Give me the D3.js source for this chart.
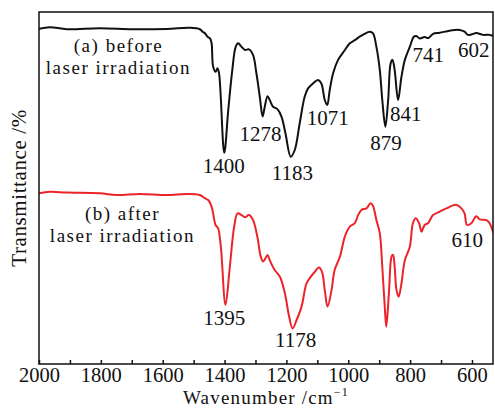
<!DOCTYPE html>
<html>
<head>
<meta charset="utf-8">
<script src="https://cdn.jsdelivr.net/npm/d3@7"></script>
<style>
  body { margin: 0; background: #fff; }
  text { font-family: "Liberation Serif", "Times New Roman", serif; fill: #111; }
</style>
</head>
<body>
<div id="chart"></div>
<script>
// spectrum (a): before laser irradiation, [wavenumber, transmittance]
const beforeWave = [2000, 1965, 1910, 1803, 1696, 1586, 1512, 1480, 1470, 1464, 1454, 1447, 1442, 1437, 1429, 1423, 1418, 1401, 1388, 1375, 1364, 1356, 1345, 1334, 1321, 1308, 1297, 1286, 1277, 1270, 1261, 1254, 1243, 1229, 1216, 1203, 1186, 1173, 1157, 1141, 1130, 1114, 1098, 1087, 1076, 1068, 1060, 1049, 1033, 1011, 995, 979, 963, 947, 931, 920, 909, 898, 890, 880, 871, 863, 857, 850, 839, 828, 817, 801, 788, 780, 769, 753, 741, 726, 704, 672, 640, 624, 613, 602, 586, 564, 543, 527];
const beforeT = [95.2, 95.7, 95.1, 95.4, 95.1, 95.2, 95.5, 95.1, 94.3, 94.0, 92.9, 92.5, 91.2, 84.5, 83.0, 84.0, 82.7, 60.0, 72.2, 83.5, 90.1, 91.1, 90.1, 89.2, 89.4, 87.8, 82.6, 75.9, 70.3, 73.1, 76.1, 75.0, 73.1, 72.4, 70.3, 65.5, 58.9, 60.8, 68.4, 75.9, 78.3, 79.7, 80.7, 79.7, 75.0, 73.6, 77.8, 82.6, 86.4, 89.2, 91.1, 92.0, 93.0, 93.8, 94.4, 93.9, 90.1, 83.5, 75.0, 67.4, 75.0, 85.4, 86.4, 83.5, 75.0, 81.6, 86.4, 90.1, 93.0, 93.2, 92.5, 92.9, 92.6, 93.8, 94.1, 94.7, 94.9, 94.4, 93.5, 93.6, 94.0, 93.5, 93.5, 93.0];

// spectrum (b): after laser irradiation
const afterWave = [2000, 1965, 1910, 1803, 1749, 1674, 1587, 1523, 1480, 1464, 1453, 1442, 1437, 1429, 1421, 1412, 1397, 1383, 1369, 1358, 1345, 1334, 1321, 1308, 1293, 1283, 1275, 1268, 1261, 1254, 1238, 1221, 1205, 1191, 1180, 1167, 1151, 1135, 1121, 1108, 1095, 1085, 1076, 1067, 1054, 1044, 1027, 1011, 995, 979, 968, 957, 941, 928, 920, 909, 898, 890, 882, 877, 868, 860, 855, 850, 844, 837, 828, 817, 801, 791, 782, 771, 763, 753, 742, 726, 704, 683, 650, 634, 624, 616, 602, 586, 575, 553, 543, 530];
const afterT = [48.5, 48.9, 48.7, 48.5, 48.0, 48.3, 48.0, 48.3, 48.0, 47.1, 46.6, 44.7, 42.8, 39.5, 38.6, 33.3, 16.8, 27.6, 39.0, 42.8, 42.3, 41.7, 42.3, 40.9, 35.7, 30.5, 29.1, 30.0, 31.0, 29.5, 26.7, 24.8, 20.1, 13.4, 10.1, 12.5, 16.3, 22.9, 24.8, 26.2, 27.4, 26.2, 21.0, 16.3, 21.0, 26.7, 30.5, 36.2, 39.0, 40.0, 42.3, 43.8, 44.2, 45.7, 44.9, 40.9, 37.1, 27.6, 16.3, 10.6, 21.0, 30.5, 31.0, 27.6, 21.0, 19.1, 22.9, 29.5, 33.3, 40.0, 41.4, 40.0, 37.6, 39.5, 40.0, 42.3, 43.3, 44.2, 45.2, 44.2, 42.8, 39.5, 40.0, 42.0, 41.1, 40.9, 40.0, 37.1];

// x ticks
const xTicks = [2000, 1800, 1600, 1400, 1200, 1000, 800, 600];
const xMinorTicks = [1900, 1700, 1500, 1300, 1100, 900, 700];

// peak labels: text, wavenumber at label centre, transmittance at baseline
const peakText = ["1400", "1278", "1183", "1071", "879", "841", "741", "602", "1395", "1178", "610"];
const peakWave = [1403, 1284, 1181, 1066, 878, 814, 741, 594, 1401, 1170, 615];
const peakT = [54.3, 63.4, 52.3, 67.9, 60.8, 69.0, 85.8, 87.3, 11.1, 4.9, 33.3];

// series captions (two lines each)
const captionText = [["(a) before", "laser irradiation"], ["(b) after", "laser irradiation"]];
const captionWave = [1743, 1730];
const captionT = [88.5, 40.8];

const width = 495, height = 408;
const margin = { top: 12, right: 2, bottom: 44, left: 39 };
const innerW = width - margin.left - margin.right;
const innerH = height - margin.top - margin.bottom;

const svg = d3.select("#chart").append("svg")
    .attr("width", width)
    .attr("height", height);

const g = svg.append("g")
    .attr("transform", `translate(${margin.left},${margin.top})`);

const x = d3.scaleLinear().domain([2000, 532]).range([0, innerW]);
const y = d3.scaleLinear().domain([0, 100]).range([innerH, 0]);

const line = d3.line()
    .x(d => x(d[0]))
    .y(d => y(d[1]))
    .curve(d3.curveCatmullRom.alpha(0.5));

const before = beforeWave.map((w, i) => [w, beforeT[i]]);
const after = afterWave.map((w, i) => [w, afterT[i]]);

g.append("defs").append("clipPath").attr("id", "clip")
    .append("rect").attr("width", innerW).attr("height", innerH);

g.append("path")
    .datum(before)
    .attr("clip-path", "url(#clip)")
    .attr("fill", "none")
    .attr("stroke", "#111")
    .attr("stroke-width", 2)
    .attr("stroke-linejoin", "round")
    .attr("d", line);

g.append("path")
    .datum(after)
    .attr("clip-path", "url(#clip)")
    .attr("fill", "none")
    .attr("stroke", "#ec2329")
    .attr("stroke-width", 2)
    .attr("stroke-linejoin", "round")
    .attr("d", line);

// frame
g.append("rect")
    .attr("width", innerW)
    .attr("height", innerH)
    .attr("fill", "none")
    .attr("stroke", "#111")
    .attr("stroke-width", 1.5);

// bottom axis, ticks pointing inward
const xAxis = d3.axisBottom(x)
    .tickValues(xTicks.concat(xMinorTicks))
    .tickSize(-4)
    .tickPadding(3.5)
    .tickFormat(d => xTicks.includes(d) ? d : "");

const ax = g.append("g")
    .attr("transform", `translate(0,${innerH})`)
    .call(xAxis);
ax.select(".domain").remove();
ax.selectAll(".tick line").attr("stroke", "#111").attr("stroke-width", 1.5);
ax.selectAll(".tick text")
    .attr("font-family", "Liberation Serif, serif")
    .attr("font-size", 20.5)
    .attr("fill", "#111");

// axis titles
const xt = g.append("text")
    .attr("x", innerW / 2)
    .attr("y", innerH + 40)
    .attr("text-anchor", "middle")
    .attr("font-size", 19)
    .attr("letter-spacing", 1.2);
xt.append("tspan").text("Wavenumber /cm");
xt.append("tspan").attr("dy", -8).attr("font-size", 12).text("−1");

g.append("text")
    .attr("transform", `translate(${-13},${innerH / 2}) rotate(-90)`)
    .attr("text-anchor", "middle")
    .attr("font-size", 21)
    .attr("letter-spacing", 0.6)
    .text("Transmittance /%");

// peak labels
g.selectAll(".peak")
    .data(peakText)
    .enter()
    .append("text")
    .attr("class", "peak")
    .attr("x", (d, i) => x(peakWave[i]))
    .attr("y", (d, i) => y(peakT[i]))
    .attr("text-anchor", "middle")
    .attr("font-size", 21)
    .text(d => d);

// captions, one text element with a tspan per line
captionText.forEach((lines, i) => {
    const cx = x(captionWave[i]);
    const t = g.append("text")
        .attr("x", cx)
        .attr("y", y(captionT[i]))
        .attr("text-anchor", "middle")
        .attr("font-size", 19)
        .attr("letter-spacing", 1.5);
    lines.forEach((s, j) => {
        t.append("tspan")
            .attr("x", cx)
            .attr("dy", j === 0 ? 0 : 21.2)
            .text(s);
    });
});
</script>
</body>
</html>
